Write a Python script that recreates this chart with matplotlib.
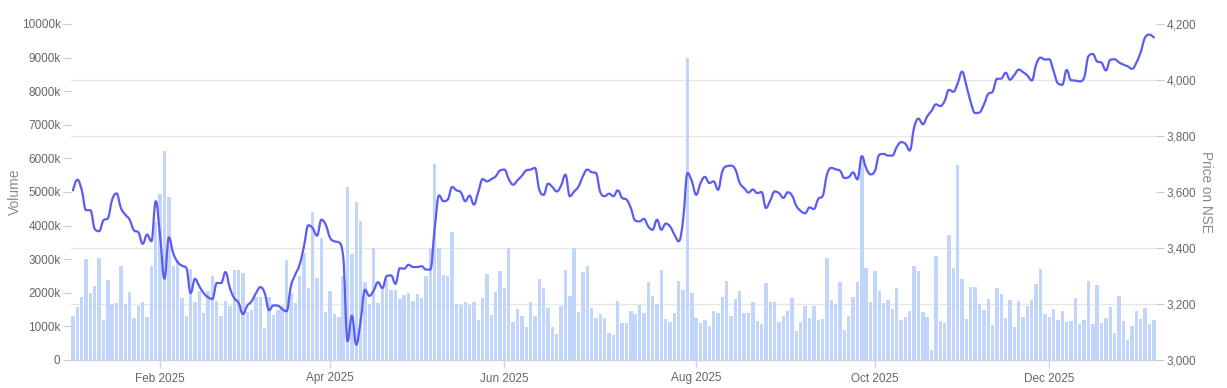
import numpy as np
import pandas as pd
import matplotlib
matplotlib.use("Agg")
import matplotlib.pyplot as plt
from matplotlib.ticker import FixedLocator, FuncFormatter
from matplotlib.path import Path
from matplotlib.patches import PathPatch

plt.rcParams['font.family'] = ['Liberation Sans', 'DejaVu Sans']

# ---- trading calendar (NSE) ----
holidays = ["2025-02-26", "2025-03-14", "2025-03-31", "2025-04-10", "2025-04-14",
            "2025-04-18", "2025-05-01", "2025-08-15", "2025-08-27", "2025-10-02",
            "2025-10-22", "2025-11-05", "2025-12-25"]
special_sessions = ["2025-02-01"]
dates = pd.bdate_range("2025-01-06", "2026-01-05")
dates = dates.difference(pd.to_datetime(holidays)).union(pd.to_datetime(special_sessions))

# ---- volume (thousands) ----
volume_k = [
    1320, 1570, 1875, 3016, 1994, 2212, 3035, 1190, 2371, 1657,
    1696, 2807, 1666, 2034, 1260, 1597, 1736, 1280, 2807, 4097,
    4930, 6230, 4860, 2788, 2990, 1835, 1319, 2720, 1716, 2060,
    1410, 2044, 2510, 1766, 1300, 1766, 1617, 2688, 2668, 2589,
    1420, 1498, 1870, 1880, 962, 1875, 1339, 1498, 1600, 2966,
    2000, 1700, 2510, 3184, 2133, 4395, 2430, 3620, 1440, 2063,
    1380, 1280, 2510, 5150, 3155, 4690, 4127, 2311, 1676, 3323,
    1696, 2190, 2400, 2073, 2083, 1815, 1944, 1994, 1766, 1974,
    1835, 2490, 3323, 5843, 3323, 2530, 2510, 3819, 1666, 1647,
    1726, 1637, 1716, 1200, 1845, 2569, 1349, 2034, 2639, 2133,
    3323, 1141, 1518, 1319, 982, 1736, 1319, 2411, 2143, 1548,
    992, 784, 1617, 2688, 1905, 3323, 1438, 2619, 2797, 1557,
    1260, 1379, 1250, 813, 750, 1766, 1101, 1101, 1468, 1379,
    1647, 1399, 2331, 1895, 1666, 2668, 1220, 1141, 1389, 2351,
    2083, 9000, 2004, 1250, 1091, 1200, 1012, 1458, 1409, 1865,
    2351, 1300, 1805, 2063, 1399, 1399, 1736, 1171, 1081, 2292,
    1736, 1736, 1141, 1300, 1468, 1835, 873, 1141, 1597, 1260,
    1597, 1200, 1230, 3036, 1776, 1676, 2321, 903, 1319, 1865,
    2331, 6080, 2728, 1736, 2659, 2044, 1696, 1776, 1518, 2153,
    1200, 1290, 1468, 2797, 2649, 1428, 1270, 308, 3095, 1171,
    1111, 3720, 2728, 5803, 2420, 1230, 2172, 2172, 1666, 1488,
    1825, 1042, 2153, 1964, 1240, 1776, 982, 1766, 1290, 1617,
    1796, 2262, 2718, 1369, 1290, 1518, 1200, 1448, 1141, 1151,
    1835, 1081, 1200, 2361, 1081, 2232, 1111, 1240, 1567, 804,
    1915, 1161, 605, 1002, 1468, 1230, 1557, 1081, 1200,
]

# ---- price on NSE ----
price = [
    3606, 3644, 3608, 3535, 3535, 3468, 3460, 3499, 3506, 3573,
    3595, 3543, 3519, 3501, 3463, 3456, 3415, 3448, 3424, 3567,
    3442, 3290, 3438, 3382, 3350, 3337, 3329, 3239, 3290, 3263,
    3239, 3224, 3218, 3275, 3275, 3314, 3257, 3221, 3204, 3164,
    3194, 3210, 3239, 3260, 3239, 3178, 3195, 3194, 3182, 3174,
    3263, 3305, 3340, 3406, 3481, 3471, 3444, 3501, 3483, 3436,
    3424, 3420, 3370, 3067, 3158, 3055, 3140, 3251, 3229, 3248,
    3278, 3257, 3300, 3302, 3272, 3328, 3326, 3340, 3332, 3332,
    3335, 3323, 3323, 3470, 3588, 3567, 3573, 3618, 3606, 3599,
    3567, 3587, 3555, 3600, 3646, 3638, 3646, 3656, 3677, 3680,
    3646, 3626, 3642, 3658, 3677, 3680, 3686, 3608, 3590, 3630,
    3618, 3602, 3623, 3662, 3585, 3602, 3620, 3656, 3680, 3671,
    3668, 3599, 3585, 3594, 3585, 3606, 3579, 3573, 3543, 3498,
    3495, 3504, 3477, 3465, 3501, 3465, 3487, 3477, 3448, 3424,
    3501, 3668, 3638, 3590, 3632, 3654, 3632, 3638, 3608, 3674,
    3692, 3694, 3680, 3632, 3614, 3598, 3609, 3596, 3600, 3543,
    3570, 3602, 3596, 3579, 3599, 3587, 3550, 3532, 3524, 3545,
    3539, 3575, 3585, 3662, 3686, 3681, 3676, 3650, 3653, 3670,
    3645, 3728, 3685, 3663, 3675, 3733, 3736, 3730, 3730, 3760,
    3778, 3772, 3748, 3830, 3862, 3842, 3870, 3890, 3913, 3907,
    3925, 3965, 3958, 3988, 4030, 3980, 3920, 3882, 3884, 3912,
    3950, 3958, 4004, 4005, 4026, 4001, 4018, 4037, 4028, 4016,
    3998, 4055, 4080, 4073, 4074, 4032, 3988, 3983, 4036, 3999,
    3998, 3995, 4008, 4085, 4093, 4066, 4062, 4034, 4072, 4074,
    4063, 4055, 4049, 4040, 4062, 4100, 4152, 4162, 4152,
]

tick_months = ["2025-02", "2025-04", "2025-06", "2025-08", "2025-10", "2025-12"]
volume_ticks = list(range(0, 10001, 1000))
price_ticks = list(range(3000, 4201, 200))

n = min(len(dates), len(volume_k), len(price))
x = np.arange(n, dtype=float)
y = np.asarray(price[:n], dtype=float)
dser = pd.Series(dates[:n])

# first trading day of each labelled month (ordinal axis)
tick_pos, tick_lab = [], []
for m in tick_months:
    idx = np.where(dser.dt.strftime("%Y-%m") == m)[0]
    if len(idx):
        tick_pos.append(idx[0])
        tick_lab.append(pd.Timestamp(m + "-01").strftime("%b %Y"))


def spline_path(xs, ys, smoothing=1.5):
    """Bezier spline through every data point (Highcharts-style control points)."""
    denom = smoothing + 1
    verts = [(xs[0], ys[0])]
    codes = [Path.MOVETO]
    prev_right = (xs[0], ys[0])
    m = len(xs)
    for i in range(1, m):
        px, py = xs[i], ys[i]
        if i < m - 1:
            lx, ly = xs[i - 1], ys[i - 1]
            nx, ny = xs[i + 1], ys[i + 1]
            lcx = (smoothing * px + lx) / denom
            lcy = (smoothing * py + ly) / denom
            rcx = (smoothing * px + nx) / denom
            rcy = (smoothing * py + ny) / denom
            if rcx != lcx:
                corr = ((rcy - lcy) * (rcx - px)) / (rcx - lcx) + py - rcy
                lcy += corr
                rcy += corr
            if lcy > ly and lcy > py:
                lcy = max(ly, py); rcy = 2 * py - lcy
            elif lcy < ly and lcy < py:
                lcy = min(ly, py); rcy = 2 * py - lcy
            if rcy > ny and rcy > py:
                rcy = max(ny, py); lcy = 2 * py - rcy
            elif rcy < ny and rcy < py:
                rcy = min(ny, py); lcy = 2 * py - rcy
        else:
            lcx, lcy = px, py
            rcx, rcy = px, py
        verts += [prev_right, (lcx, lcy), (px, py)]
        codes += [Path.CURVE4, Path.CURVE4, Path.CURVE4]
        prev_right = (rcx, rcy)
    return Path(verts, codes)


fig = plt.figure(figsize=(12.27, 3.88), dpi=100)
ax = fig.add_axes([71 / 1227, 28 / 388, (1156 - 71) / 1227, (360 - 24) / 388])
ax2 = ax.twinx()

bar_color = "#c2d6fb"
line_color = "#5c5cf2"
grid_color = "#e6e6e6"
label_color = "#666666"
title_color = "#8a8a8a"
axis_color = "#ccd6eb"

ax.bar(x, volume_k[:n], width=0.78, color=bar_color, zorder=2, linewidth=0)
ax2.add_patch(PathPatch(spline_path(x, y), facecolor="none", edgecolor=line_color,
                        linewidth=1.6, zorder=3, capstyle="round", joinstyle="round"))

ax.set_xlim(-0.45, n - 0.5)
ax.set_ylim(0, 10000)
ax2.set_ylim(3000, 4200)

ax.yaxis.set_major_locator(FixedLocator(volume_ticks))
ax.yaxis.set_major_formatter(FuncFormatter(lambda v, p: "0" if v == 0 else f"{int(v)}k"))
# grid aligned with the price axis ticks, drawn behind the bars
ax.yaxis.set_minor_locator(FixedLocator(np.linspace(0, 10000, len(price_ticks))))
ax.grid(which="minor", axis="y", color=grid_color, linewidth=1, zorder=0)
ax.set_axisbelow(True)

ax2.yaxis.set_major_locator(FixedLocator(price_ticks))
ax2.yaxis.set_major_formatter(FuncFormatter(lambda v, p: f"{int(v):,}"))

ax.set_xticks(tick_pos)
ax.set_xticklabels(tick_lab)

for a in (ax, ax2):
    for s in a.spines.values():
        s.set_visible(False)
ax.spines["bottom"].set_visible(True)
ax.spines["bottom"].set_color(axis_color)
ax.spines["bottom"].set_linewidth(1)

ax.tick_params(axis="x", colors=axis_color, labelcolor=label_color, length=6,
               width=1, labelsize=8.5, pad=3)
ax.tick_params(axis="y", which="major", colors="#cccccc", labelcolor=label_color,
               length=6, width=0.8, labelsize=8.5, pad=1.5)
ax.tick_params(axis="y", which="minor", length=0)
ax2.tick_params(axis="y", colors="#cccccc", labelcolor=label_color, length=6,
                width=0.8, labelsize=8.5, pad=1.5)

ax.set_ylabel("Volume", color=title_color, fontsize=10, labelpad=0)
ax2.set_ylabel("Price on NSE", color=title_color, fontsize=9.8, rotation=270, labelpad=12)

fig.savefig("out.png", dpi=100)
